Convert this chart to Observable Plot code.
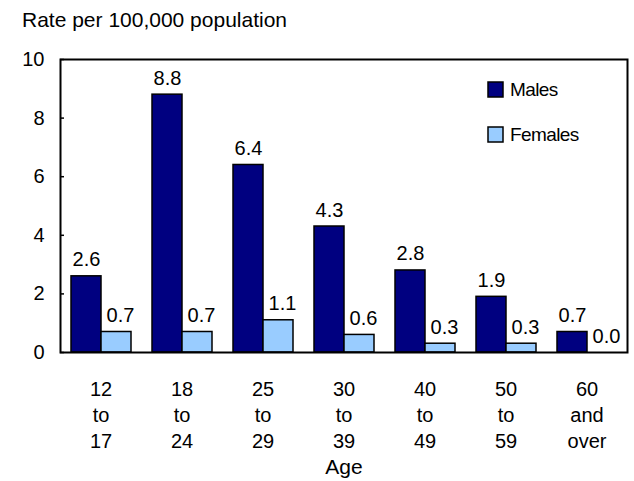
<!DOCTYPE html>
<html><head><meta charset="utf-8">
<script src="https://cdn.jsdelivr.net/npm/d3@7"></script>
<script src="https://cdn.jsdelivr.net/npm/@observablehq/plot@0.6"></script>
<style>
body{margin:0;background:#fff}
#chart{position:relative;width:634px;height:481px;overflow:hidden;background:#fff}
#chart svg.main{position:absolute;left:0;top:0}
#title{position:absolute;left:22px;top:9px;font-family:"Liberation Sans",Arial,sans-serif;font-size:21px;line-height:1;color:#000;white-space:nowrap}
#legend{position:absolute;left:488px;top:78px;width:140px}
#legend *{font-family:"Liberation Sans",Arial,sans-serif !important;font-size:19px !important;color:#000 !important;letter-spacing:-0.6px}
#legend > div{margin:0 !important;padding:0 !important;overflow:visible !important}
#legend > div > div{display:flex;align-items:center;line-height:23px;height:23px;margin:0 0 22px 0 !important;padding:0 !important;overflow:visible !important;white-space:nowrap}
#legend svg{overflow:visible;margin-right:7px !important;width:15px;height:15px;flex:none}
#legend svg rect{stroke:#000;stroke-width:1.5px}
</style></head><body>
<div id="chart"><div id="title">Rate per 100,000 population</div><div id="legend"></div></div>
<script>
const ages = ["12 to 17","18 to 24","25 to 29","30 to 39","40 to 49","50 to 59","60 and over"];
const tickLabels = ["12\nto\n17","18\nto\n24","25\nto\n29","30\nto\n39","40\nto\n49","50\nto\n59","60\nand\nover"];
const series = ["Males","Females"];
const males = [2.6,8.8,6.4,4.3,2.8,1.9,0.7];
const females = [0.7,0.7,1.1,0.6,0.3,0.3,0.0];
const colors = ["#000080","#99ccff"];
const yTicks = [0,2,4,6,8,10];
const xTitle = "Age";

const regular = '"Liberation Sans",Arial,sans-serif';

const data = ages.flatMap((a,i)=>[
  {age:a, sex:series[0], value:males[i]},
  {age:a, sex:series[1], value:females[i]}
]);

const chart = Plot.plot({
  width:634, height:481,
  marginLeft:59, marginRight:6, marginTop:59, marginBottom:129,
  style:{fontFamily:regular, fontSize:"20px", background:"transparent", color:"#000"},
  fx:{domain:ages, padding:0},
  x:{domain:series, paddingInner:0, paddingOuter:0.33, axis:null},
  y:{domain:[0,10]},
  color:{domain:series, range:colors},
  marks:[
    Plot.barY(data,{fx:"age", x:"sex", y:"value", fill:"sex", stroke:"#000", strokeWidth:1.5}),
    Plot.text(data.filter(d=>d.sex===series[0]),{fx:"age", x:"sex", y:"value", text:d=>d.value.toFixed(1), lineAnchor:"bottom", dy:-10, fontSize:20, fill:"#000"}),
    Plot.text(data.filter(d=>d.sex===series[1]),{fx:"age", x:"sex", y:"value", text:d=>d.value.toFixed(1), lineAnchor:"bottom", dy:-10, dx:4, fontSize:20, fill:"#000"}),
    Plot.frame({facet:"super", stroke:"#000", strokeWidth:2}),
    Plot.axisY({ticks:yTicks, tickSize:-4, tickPadding:20, fontSize:20, label:null, strokeWidth:1.5}),
    Plot.axisFx({anchor:"bottom", tickSize:0, tickPadding:25, lineHeight:1.3, fontSize:20,
      tickFormat:d=>tickLabels[ages.indexOf(d)], label:null}),
    Plot.axisFx({anchor:"bottom", ticks:[], tickSize:0, label:xTitle, labelAnchor:"center", labelArrow:"none", labelOffset:121, fontSize:21})
  ]
});
chart.classList.add("main");
document.getElementById("chart").appendChild(chart);

const leg = Plot.legend({color:{domain:series, range:colors}, legend:"swatches", columns:1, swatchSize:15});
document.getElementById("legend").appendChild(leg);
</script>
</body></html>
